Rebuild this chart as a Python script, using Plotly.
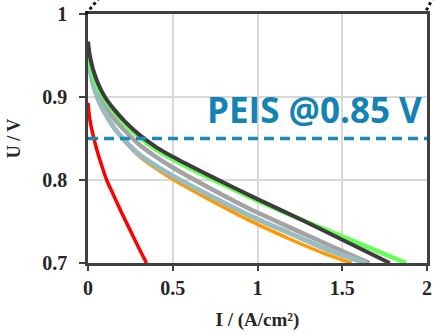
import plotly.graph_objects as go

# Data
red_I = [0, 0.005, 0.015, 0.03, 0.05, 0.08, 0.11, 0.15, 0.2, 0.25, 0.3, 0.345]
red_V = [0.893, 0.882, 0.868, 0.854, 0.838, 0.818, 0.800, 0.782, 0.760, 0.739, 0.718, 0.70]

orange_I = [0, 0.01, 0.03, 0.06, 0.1, 0.15, 0.22, 0.3, 0.4, 0.5, 0.72, 0.955, 1.2, 1.4, 1.555]
orange_V = [0.950, 0.935, 0.916, 0.897, 0.880, 0.864, 0.846, 0.829, 0.814, 0.801, 0.776, 0.751, 0.728, 0.711, 0.70]

gray_I = [0, 0.01, 0.03, 0.06, 0.1, 0.15, 0.22, 0.3, 0.4, 0.5, 0.72, 0.955, 1.2, 1.45, 1.66]
gray_V = [0.955, 0.940, 0.922, 0.905, 0.890, 0.875, 0.859, 0.843, 0.828, 0.815, 0.790, 0.765, 0.742, 0.719, 0.70]

lblue_I = [0, 0.01, 0.03, 0.06, 0.1, 0.15, 0.22, 0.3, 0.4, 0.5, 0.72, 0.955, 1.2, 1.45, 1.64]
lblue_V = [0.952, 0.935, 0.915, 0.897, 0.881, 0.864, 0.847, 0.831, 0.817, 0.805, 0.781, 0.757, 0.735, 0.713, 0.70]

green_I = [0, 0.01, 0.03, 0.06, 0.1, 0.15, 0.22, 0.3, 0.4, 0.5, 0.72, 1.0, 1.25, 1.5, 1.7, 1.876]
green_V = [0.958, 0.943, 0.926, 0.911, 0.897, 0.883, 0.867, 0.852, 0.837, 0.825, 0.802, 0.775, 0.753, 0.732, 0.715, 0.70]

black_I = [0, 0.01, 0.03, 0.06, 0.1, 0.15, 0.22, 0.3, 0.4, 0.5, 0.72, 1.0, 1.25, 1.5, 1.78]
black_V = [0.967, 0.951, 0.933, 0.916, 0.900, 0.886, 0.870, 0.855, 0.840, 0.828, 0.805, 0.777, 0.753, 0.728, 0.70]

peis_V = 0.85
peis_label = "PEIS @0.85 V"

x_ticks = [0, 0.5, 1, 1.5, 2]
x_tick_text = ["0", "0.5", "1", "1.5", "2"]
y_ticks = [0.7, 0.8, 0.9, 1.0]
y_tick_text = ["0.7", "0.8", "0.9", "1"]

series = [
    (red_I, red_V, "#ff0000", 3.5),
    (orange_I, orange_V, "#ff9900", 3.5),
    (gray_I, gray_V, "#a3a3a3", 4.5),
    (lblue_I, lblue_V, "#98bcc0", 5),
    (green_I, green_V, "#66ff55", 4.5),
    (black_I, black_V, "#3c3c3c", 4),
]

fig = go.Figure()
for xs, ys, col, w in series:
    fig.add_trace(go.Scatter(x=xs, y=ys, mode="lines",
                             line=dict(color=col, width=w, shape="spline", smoothing=0.8),
                             showlegend=False, hoverinfo="skip"))

fig.add_shape(type="line", xref="paper", x0=0, x1=1, yref="y", y0=peis_V, y1=peis_V,
              line=dict(color="#1a8ab8", width=3.5, dash="10px,6px"))

fig.add_annotation(x=1.335, y=0.885, xref="x", yref="y", text="<b>" + peis_label + "</b>",
                   showarrow=False, yanchor="middle",
                   font=dict(family="Open Sans", size=35, color="#1383b3"))

# dotted remnants of a callout above the plot
fig.add_shape(type="line", xref="paper", yref="paper", x0=-0.006, y0=1.0, x1=0.03, y1=1.06,
              line=dict(color="#111111", width=3, dash="dot"))
fig.add_shape(type="line", xref="paper", yref="paper", x0=0.998, y0=1.015, x1=1.016, y1=1.06,
              line=dict(color="#111111", width=3, dash="dot"))

tickfont = dict(family="Liberation Serif", size=20, color="#262626")
fig.update_layout(
    width=435, height=335,
    margin=dict(l=88, r=8, t=14, b=72, autoexpand=False),
    paper_bgcolor="white", plot_bgcolor="white",
    xaxis=dict(range=[0, 2], tickvals=x_ticks, ticktext=["<b>%s</b>" % t for t in x_tick_text],
               tickfont=tickfont, automargin=False,
               showgrid=True, gridcolor="#d9d9d9", gridwidth=1.5,
               showline=True, linecolor="#404040", linewidth=2.5, mirror=True,
               ticks="outside", ticklen=5, tickwidth=2, tickcolor="#404040", zeroline=False,
               title=dict(text="<b>I / (A/cm²)</b>", font=dict(family="Liberation Serif", size=19,
                                                             color="#262626"), standoff=15)),
    yaxis=dict(range=[0.7, 1.0], tickvals=y_ticks, ticktext=["<b>%s</b>" % t for t in y_tick_text],
               tickfont=tickfont, automargin=False,
               showgrid=True, gridcolor="#d9d9d9", gridwidth=1.5,
               showline=True, linecolor="#404040", linewidth=2.5, mirror=True,
               ticks="outside", ticklen=6, tickwidth=2, tickcolor="#404040", zeroline=False,
               ticklabelstandoff=8,
               title=dict(text="<b>U / V</b>", font=dict(family="Liberation Serif", size=18,
                                                       color="#262626"), standoff=17)),
)

fig.write_html("out.html", config={"displayModeBar": False},
               post_script="document.body.style.margin='0';")
